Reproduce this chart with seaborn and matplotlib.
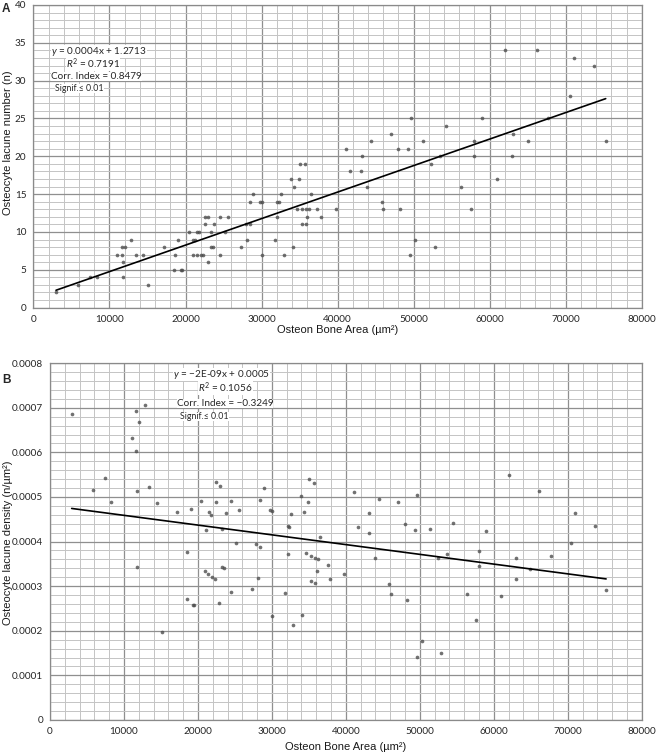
import numpy as np
import pandas as pd
import seaborn as sns
import matplotlib.pyplot as plt
from matplotlib.ticker import MultipleLocator

# --- Panel A: osteocyte lacune number vs osteon bone area ---
area_a = [2970, 5900, 7440, 8310, 11030, 11690, 11600, 12080, 11770, 11770,
          12830, 13480, 14450, 15100, 17160, 18430, 18560, 19050, 19350, 19530,
          20450, 21020, 21240, 20930, 21450, 21540, 21800, 21980, 22330, 22550,
          22500, 22990, 22940, 23290, 23640, 23340, 23730, 24520, 24520, 25220,
          25530, 49590, 47050, 54320, 44420, 51260, 41100, 47880, 49240, 43150,
          53530, 35000, 35750, 41580, 43020, 52350, 33870, 34880, 34260, 43900,
          56250, 28920, 32510, 36540, 28480, 29750, 30000, 32070, 32290, 45870,
          46000, 48230, 34700, 35350, 35830, 36270, 37330, 39740, 32070, 36010,
          37810, 35270, 35790, 27910, 28480, 28130, 31720, 50200, 27340, 34080,
          52750, 30000, 32940, 49500, 61970, 66230, 71100, 73770, 70530, 58950,
          57980, 65040, 75260, 63030, 57980, 62980, 61000, 67700, 57600]
lacunes_a = [2, 3, 4, 4, 7, 7, 8, 8, 6, 4,
             9, 7, 7, 3, 8, 5, 7, 9, 5, 5,
             10, 9, 9, 7, 7, 10, 10, 7, 7, 11,
             12, 12, 6, 8, 8, 10, 11, 12, 7, 10,
             12, 25, 23, 24, 22, 22, 21, 21, 21, 20,
             20, 19, 19, 18, 18, 19, 17, 17, 16, 16,
             16, 15, 15, 15, 14, 14, 14, 14, 14, 14,
             13, 13, 13, 13, 13, 13, 13, 13, 12, 12,
             12, 11, 11, 11, 11, 9, 9, 9, 8, 8,
             8, 7, 7, 7, 34, 34, 33, 32, 28, 25,
             22, 22, 22, 23, 20, 20, 17, 25, 13]

# --- Panel B: osteocyte lacune density vs osteon bone area ---
area_b = [2930, 5860, 7440, 8250, 11130, 11630, 12030, 11630, 11720, 12800,
          13430, 14420, 11720, 15100, 17220, 18530, 18470, 19010, 19280, 19500,
          20450, 21080, 21490, 21800, 20990, 21400, 21890, 22300, 22480, 22930,
          22480, 22840, 23290, 23740, 23250, 23520, 24510, 24420, 25500, 25180,
          27350, 27890, 28430, 28430, 28930, 28120, 29780, 30010, 29960, 31720,
          32130, 32220, 32310, 32530, 32890, 33890, 34110, 34290, 34920, 35010,
          35730, 34650, 35330, 35830, 36190, 35330, 35830, 36050, 36550, 37630,
          37810, 39790, 41100, 41600, 43170, 43080, 43940, 44480, 45830, 46060,
          47100, 47950, 48270, 49300, 49670, 49580, 50310, 51430, 52460, 52910,
          53670, 54470, 56400, 57650, 58010, 58010, 58990, 61010, 62000, 63020,
          63020, 64940, 66150, 67760, 70450, 71030, 73670, 75190]
density_b = [6.87e-4, 5.16e-4, 5.43e-4, 4.89e-4, 6.32e-4, 6.92e-4, 6.67e-4, 6.04e-4, 5.13e-4, 7.06e-4,
             5.22e-4, 4.87e-4, 3.42e-4, 1.98e-4, 4.66e-4, 3.77e-4, 2.71e-4, 4.73e-4, 2.58e-4, 2.57e-4,
             4.90e-4, 4.27e-4, 4.66e-4, 4.60e-4, 3.35e-4, 3.28e-4, 3.20e-4, 3.15e-4, 5.34e-4, 5.25e-4,
             4.89e-4, 2.63e-4, 4.28e-4, 4.64e-4, 3.44e-4, 3.40e-4, 4.90e-4, 2.87e-4, 4.71e-4, 3.97e-4,
             2.93e-4, 3.95e-4, 3.87e-4, 4.93e-4, 5.19e-4, 3.19e-4, 4.70e-4, 4.68e-4, 2.34e-4, 2.84e-4,
             3.73e-4, 4.34e-4, 4.32e-4, 4.61e-4, 2.13e-4, 5.03e-4, 2.35e-4, 4.67e-4, 4.88e-4, 5.41e-4,
             5.32e-4, 3.75e-4, 3.68e-4, 3.64e-4, 3.60e-4, 3.12e-4, 3.07e-4, 3.33e-4, 4.11e-4, 3.47e-4,
             3.17e-4, 3.27e-4, 5.11e-4, 4.32e-4, 4.64e-4, 4.19e-4, 3.64e-4, 4.95e-4, 3.05e-4, 2.83e-4,
             4.89e-4, 4.39e-4, 2.70e-4, 4.26e-4, 5.05e-4, 1.42e-4, 1.78e-4, 4.28e-4, 3.63e-4, 1.50e-4,
             3.73e-4, 4.41e-4, 2.83e-4, 2.25e-4, 3.79e-4, 3.45e-4, 4.24e-4, 2.78e-4, 5.49e-4, 3.64e-4,
             3.17e-4, 3.38e-4, 5.13e-4, 3.68e-4, 3.97e-4, 4.64e-4, 4.34e-4, 2.92e-4]

x_ticks = [0, 10000, 20000, 30000, 40000, 50000, 60000, 70000, 80000]
y_ticks_a = [0, 5, 10, 15, 20, 25, 30, 35, 40]
y_ticks_b = [0, 0.0001, 0.0002, 0.0003, 0.0004, 0.0005, 0.0006, 0.0007, 0.0008]
y_labels_b = ["0", "0.0001", "0.0002", "0.0003", "0.0004", "0.0005", "0.0006", "0.0007", "0.0008"]

stats_a = ["$y$ = 0.0004x + 1.2713", "$R^2$ = 0.7191", "Corr. Index = 0.8479", "Signif.≤ 0.01"]
stats_b = ["$y$ = \u22122E-09x + 0.0005", "$R^2$ = 0.1056", "Corr. Index = \u22120.3249", "Signif.≤ 0.01"]

df_a = pd.DataFrame({"area": area_a, "n": lacunes_a})
df_b = pd.DataFrame({"area": area_b, "dens": density_b})

sns.set_style("white")
plt.rcParams["font.family"] = ["Lato", "DejaVu Sans"]
plt.rcParams["mathtext.fontset"] = "custom"
plt.rcParams["mathtext.rm"] = "Lato"
plt.rcParams["mathtext.it"] = "Lato:italic"

fig = plt.figure(figsize=(6.58, 7.55), dpi=100)
ax_a = fig.add_axes([0.0508, 0.5926, 0.9245, 0.4008])
ax_b = fig.add_axes([0.076, 0.0464, 0.8992, 0.4726])

pt_kws = {"s": 7, "marker": "D", "color": "#4d4d4d", "linewidths": 0, "zorder": 3}
ln_kws = {"color": "black", "lw": 1.2, "zorder": 4}

sns.regplot(data=df_a, x="area", y="n", ci=None, ax=ax_a, scatter_kws=pt_kws, line_kws=ln_kws)
sns.regplot(data=df_b, x="area", y="dens", ci=None, ax=ax_b, scatter_kws=pt_kws, line_kws=ln_kws)


def style_axes(ax, yticks, ymax, yminor):
    ax.set_xlim(0, 80000)
    ax.set_ylim(0, ymax)
    ax.set_xticks(x_ticks)
    ax.set_yticks(yticks)
    ax.xaxis.set_minor_locator(MultipleLocator(2000))
    ax.yaxis.set_minor_locator(MultipleLocator(yminor))
    ax.set_axisbelow(True)
    ax.grid(which="major", color="#8f8f8f", lw=0.9)
    ax.grid(which="minor", color="#c4c4c4", lw=0.7)
    for s in ax.spines.values():
        s.set_color("#8a8a8a")
        s.set_linewidth(0.9)
    ax.tick_params(which="major", direction="out", length=3, width=0.8, color="#8a8a8a",
                   labelsize=7.2, labelcolor="#262626", pad=2)
    ax.tick_params(which="minor", length=0)


style_axes(ax_a, y_ticks_a, 40, 1)
style_axes(ax_b, y_ticks_b, 0.0008, 0.00002)
ax_b.set_yticklabels(y_labels_b)

lab_font = {"family": ["Liberation Sans", "DejaVu Sans"], "size": 8, "color": "#1a1a1a"}
ax_a.set_xlabel("Osteon Bone Area (µm²)", fontdict=lab_font)
ax_a.set_ylabel("Osteocyte lacune number (n)", fontdict=lab_font)
ax_b.set_xlabel("Osteon Bone Area (µm²)", fontdict=lab_font)
ax_b.set_ylabel("Osteocyte lacune density (n/µm²)", fontdict=lab_font)
ax_a.xaxis.set_label_coords(0.5, -0.058)
ax_a.yaxis.set_label_coords(-0.033, 0.544)
ax_b.xaxis.set_label_coords(0.5, -0.062)
ax_b.yaxis.set_label_coords(-0.062, 0.496)

box = {"facecolor": "white", "edgecolor": "none", "pad": 0.0}
# panel A equation block
ax_a.text(8620, 33.9, stats_a[0], ha="center", va="center", fontsize=7.2, bbox=box, zorder=5)
ax_a.text(7850, 32.2, stats_a[1], ha="center", va="center", fontsize=7.2, bbox=box, zorder=5)
ax_a.text(8270, 30.6, stats_a[2], ha="center", va="center", fontsize=7.2, bbox=box, zorder=5)
ax_a.text(2840, 28.9, stats_a[3], ha="left", va="center", fontsize=6.3, bbox=box, zorder=5)
# panel B equation block
ax_b.text(23200, 7.745e-4, stats_b[0], ha="center", va="center", fontsize=7.2, bbox=box, zorder=5)
ax_b.text(23770, 7.44e-4, stats_b[1], ha="center", va="center", fontsize=7.2, bbox=box, zorder=5)
ax_b.text(23640, 7.10e-4, stats_b[2], ha="center", va="center", fontsize=7.2, bbox=box, zorder=5)
ax_b.text(17580, 6.80e-4, stats_b[3], ha="left", va="center", fontsize=6.3, bbox=box, zorder=5)

fig.text(0.003, 0.988, "A", fontsize=8.5, fontweight="bold", family=["Liberation Sans"], va="center")
fig.text(0.003, 0.497, "B", fontsize=8.5, fontweight="bold", family=["Liberation Sans"], va="center")

fig.savefig("out.png", dpi=100)
